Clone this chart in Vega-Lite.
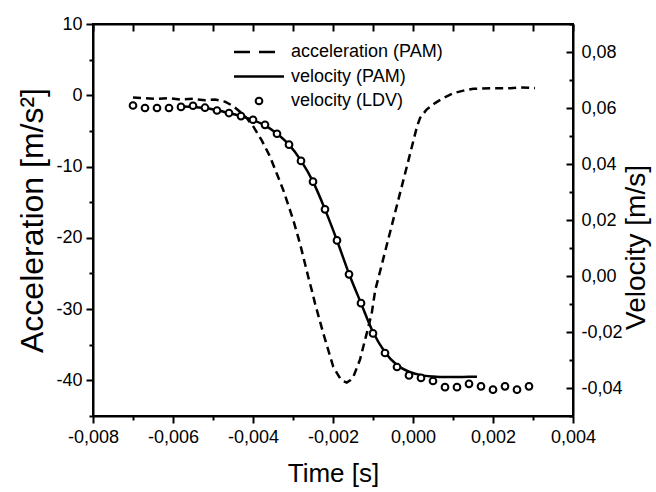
{
  "$schema": "https://vega.github.io/schema/vega-lite/v6.json",
  "width": 480,
  "height": 392,
  "autosize": "none",
  "padding": {"left": 93, "top": 24, "right": 83, "bottom": 76},
  "config": {
    "font": "Liberation Sans",
    "view": {"stroke": "black", "strokeWidth": 2},
    "axis": {
      "grid": false,
      "ticks": true,
      "domainColor": "black",
      "domainWidth": 2,
      "tickColor": "black",
      "tickWidth": 2,
      "labelColor": "black",
      "titleColor": "black",
      "labelFontSize": 18,
      "titleFontSize": 26,
      "titleFontWeight": "normal",
      "labelOverlap": false,
      "labelFlush": false
    }
  },
  "datasets": {
    "accel": [
      {"t": -0.0070, "a": -0.3}, {"t": -0.0067, "a": -0.4}, {"t": -0.0064, "a": -0.5},
      {"t": -0.0061, "a": -0.4}, {"t": -0.0058, "a": -0.6}, {"t": -0.0055, "a": -0.5},
      {"t": -0.0052, "a": -0.7}, {"t": -0.00495, "a": -0.6}, {"t": -0.0047, "a": -0.9},
      {"t": -0.0045, "a": -1.5}, {"t": -0.004325, "a": -2.3}, {"t": -0.004158, "a": -3.2},
      {"t": -0.00399, "a": -4.4}, {"t": -0.003775, "a": -6.4}, {"t": -0.003575, "a": -8.6},
      {"t": -0.003243, "a": -13.3}, {"t": -0.002993, "a": -17.5}, {"t": -0.002825, "a": -20.8},
      {"t": -0.002618, "a": -25.5}, {"t": -0.002533, "a": -27.3}, {"t": -0.00245, "a": -29.2},
      {"t": -0.002243, "a": -33.4}, {"t": -0.001993, "a": -38.1}, {"t": -0.001825, "a": -39.7},
      {"t": -0.00175, "a": -40.1}, {"t": -0.001657, "a": -40.3}, {"t": -0.00157, "a": -40.0},
      {"t": -0.001492, "a": -39.5}, {"t": -0.001325, "a": -37.1}, {"t": -0.001157, "a": -33.4},
      {"t": -0.001032, "a": -30.6}, {"t": -0.000943, "a": -27.3}, {"t": -0.000878, "a": -25.9},
      {"t": -0.000623, "a": -20.3}, {"t": -0.000368, "a": -14.7}, {"t": -0.000113, "a": -9.1},
      {"t": 0.0001, "a": -4.4}, {"t": 0.000175, "a": -3.2}, {"t": 0.00034, "a": -2.0},
      {"t": 0.00055, "a": -1.1}, {"t": 0.00076, "a": -0.4}, {"t": 0.00101, "a": 0.3},
      {"t": 0.00126, "a": 0.65}, {"t": 0.00151, "a": 0.9}, {"t": 0.00193, "a": 1.0},
      {"t": 0.00243, "a": 1.0}, {"t": 0.0027, "a": 1.1}, {"t": 0.00305, "a": 1.0}
    ],
    "velLine": [
      {"t": -0.0058, "v": 0.0605}, {"t": -0.0055, "v": 0.0604}, {"t": -0.0052, "v": 0.0600},
      {"t": -0.0049, "v": 0.0592}, {"t": -0.0046, "v": 0.0582}, {"t": -0.0043, "v": 0.0571},
      {"t": -0.0040, "v": 0.0557}, {"t": -0.0037, "v": 0.0538}, {"t": -0.0034, "v": 0.0508},
      {"t": -0.0031, "v": 0.0469}, {"t": -0.0028, "v": 0.0412}, {"t": -0.0025, "v": 0.0337},
      {"t": -0.0022, "v": 0.0238}, {"t": -0.0019, "v": 0.0127}, {"t": -0.0016, "v": 0.0008},
      {"t": -0.0013, "v": -0.0097}, {"t": -0.0010, "v": -0.0200}, {"t": -0.0007, "v": -0.0272},
      {"t": -0.0004, "v": -0.0318}, {"t": -0.0001, "v": -0.0342}, {"t": 0.0002, "v": -0.0354},
      {"t": 0.0005, "v": -0.0359}, {"t": 0.0008, "v": -0.0361}, {"t": 0.0011, "v": -0.0361},
      {"t": 0.0014, "v": -0.0360}, {"t": 0.0016, "v": -0.0360}
    ],
    "velLDV": [
      {"t": -0.0070, "v": 0.0609}, {"t": -0.0067, "v": 0.0600}, {"t": -0.0064, "v": 0.0600},
      {"t": -0.0061, "v": 0.0600}, {"t": -0.0058, "v": 0.0604}, {"t": -0.0055, "v": 0.0608},
      {"t": -0.0052, "v": 0.0601}, {"t": -0.0049, "v": 0.0591}, {"t": -0.0046, "v": 0.0582},
      {"t": -0.0043, "v": 0.0571}, {"t": -0.0040, "v": 0.0558}, {"t": -0.0037, "v": 0.0540},
      {"t": -0.0034, "v": 0.0508}, {"t": -0.0031, "v": 0.0469}, {"t": -0.0028, "v": 0.0411},
      {"t": -0.0025, "v": 0.0337}, {"t": -0.0022, "v": 0.0238}, {"t": -0.0019, "v": 0.0127},
      {"t": -0.0016, "v": 0.0006}, {"t": -0.0013, "v": -0.0097}, {"t": -0.0010, "v": -0.0205},
      {"t": -0.0007, "v": -0.0275}, {"t": -0.0004, "v": -0.0325}, {"t": -0.0001, "v": -0.0355},
      {"t": 0.0002, "v": -0.0364}, {"t": 0.0005, "v": -0.0375}, {"t": 0.0008, "v": -0.0397},
      {"t": 0.0011, "v": -0.0397}, {"t": 0.0014, "v": -0.0385}, {"t": 0.0017, "v": -0.0394},
      {"t": 0.0020, "v": -0.0406}, {"t": 0.0023, "v": -0.0394}, {"t": 0.0026, "v": -0.0406},
      {"t": 0.0029, "v": -0.0394}
    ]
  },
  "layer": [
    {
      "data": {"name": "accel"},
      "mark": {"type": "line", "strokeWidth": 2.5, "strokeDash": [8, 5]},
      "encoding": {
        "x": {
          "field": "t", "type": "quantitative",
          "scale": {"domain": [-0.008, 0.004], "nice": false, "zero": false},
          "axis": {
            "orient": "bottom",
            "title": "Time [s]",
            "tickCount": 12,
            "tickMinStep": 0.001,
            "tickSize": {"condition": {"test": "abs(round(datum.value*1000)) % 2 === 0", "value": 7}, "value": 4},
            "labelExpr": "abs(round(datum.value*1000)) % 2 === 0 ? replace(replace(format(datum.value, '.3f'), '.', ','), '\u2212', '-') : ''",
            "labelPadding": 5,
            "titlePadding": 14
          }
        },
        "y": {
          "field": "a", "type": "quantitative",
          "scale": {"domain": [-45, 10], "nice": false, "zero": false},
          "axis": {
            "orient": "left",
            "title": "Acceleration [m/s\u00b2]",
            "titleFontSize": 32,
            "tickCount": 11,
            "tickMinStep": 5,
            "tickSize": {"condition": {"test": "abs(round(datum.value)) % 10 === 0", "value": 7}, "value": 4},
            "labelExpr": "abs(round(datum.value)) % 10 === 0 ? replace(format(datum.value, 'd'), '\u2212', '-') : ''",
            "labelPadding": 4,
            "titlePadding": 6
          }
        },
        "color": {
          "datum": "acceleration (PAM)", "type": "nominal",
          "scale": {"domain": ["acceleration (PAM)", "velocity (PAM)", "velocity (LDV)"], "range": ["black", "black", "black"]},
          "legend": {
            "orient": "none", "legendX": 157, "legendY": 19, "title": null,
            "labelFontSize": 18, "labelColor": "black", "labelOffset": 23,
            "rowPadding": 6.5, "padding": 0,
            "encode": {
              "symbols": {
                "update": {
                  "shape": {"signal": "datum.value === 'velocity (LDV)' ? 'circle' : 'stroke'"},
                  "size": {"signal": "datum.value === 'velocity (LDV)' ? 45 : 2500"},
                  "strokeDash": {"signal": "datum.value === 'acceleration (PAM)' ? [16, 9] : [60, 0]"},
                  "fill": {"signal": "datum.value === 'velocity (LDV)' ? 'white' : 'transparent'"},
                  "stroke": {"value": "black"},
                  "strokeWidth": {"signal": "datum.value === 'velocity (LDV)' ? 2 : 2.5"},
                  "opacity": {"value": 1}
                }
              }
            }
          }
        }
      }
    },
    {
      "data": {"name": "velLine"},
      "mark": {"type": "line", "strokeWidth": 2.5, "interpolate": "monotone"},
      "encoding": {
        "x": {
          "field": "t", "type": "quantitative",
          "axis": {
            "orient": "top",
            "title": null,
            "labels": false,
            "tickCount": 12,
            "tickMinStep": 0.001,
            "tickSize": -7
          }
        },
        "y": {
          "field": "v", "type": "quantitative",
          "scale": {"domain": [-0.05, 0.09], "nice": false, "zero": false},
          "axis": {
            "orient": "right",
            "title": "Velocity [m/s]",
            "titleFontSize": 28,
            "titleAngle": -90,
            "titleY": 223,
            "tickCount": 14,
            "tickMinStep": 0.01,
            "tickSize": {"condition": {"test": "abs(round(datum.value*100)) % 2 === 0", "value": -7}, "value": -4},
            "labelExpr": "abs(round(datum.value*100)) % 2 === 0 ? replace(replace(format(datum.value, '.2f'), '.', ','), '\u2212', '-') : ''",
            "labelPadding": 15,
            "titlePadding": 28
          }
        },
        "color": {"datum": "velocity (PAM)", "type": "nominal"}
      }
    },
    {
      "data": {"name": "velLDV"},
      "mark": {"type": "point", "shape": "circle", "filled": false, "fill": "white", "fillOpacity": 1, "opacity": 1, "strokeWidth": 2, "size": 45},
      "encoding": {
        "x": {"field": "t", "type": "quantitative", "axis": null},
        "y": {"field": "v", "type": "quantitative", "scale": {"domain": [-0.05, 0.09], "nice": false, "zero": false}, "axis": null},
        "color": {"datum": "velocity (LDV)", "type": "nominal"}
      }
    }
  ],
  "resolve": {"scale": {"y": "independent"}, "axis": {"x": "independent"}}
}
